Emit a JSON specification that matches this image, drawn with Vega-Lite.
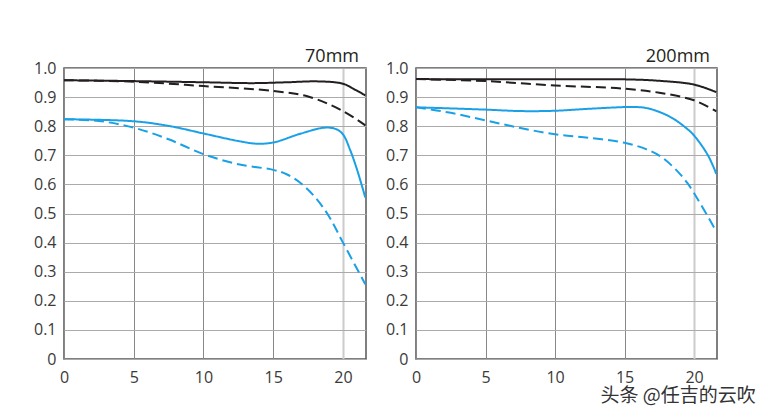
{
  "$schema": "https://vega.github.io/schema/vega-lite/v6.json",
  "background": "white",
  "padding": {"left": 32, "top": 47, "right": 5, "bottom": 0},
  "datasets": {
    "mtf": [
      {"focal": "70mm", "freq": "10", "dir": "S", "x": 0, "y": 0.958},
      {"focal": "70mm", "freq": "10", "dir": "S", "x": 5, "y": 0.955},
      {"focal": "70mm", "freq": "10", "dir": "S", "x": 10, "y": 0.951},
      {"focal": "70mm", "freq": "10", "dir": "S", "x": 13.6, "y": 0.948},
      {"focal": "70mm", "freq": "10", "dir": "S", "x": 16, "y": 0.951},
      {"focal": "70mm", "freq": "10", "dir": "S", "x": 18.2, "y": 0.954},
      {"focal": "70mm", "freq": "10", "dir": "S", "x": 20, "y": 0.946},
      {"focal": "70mm", "freq": "10", "dir": "S", "x": 20.8, "y": 0.927},
      {"focal": "70mm", "freq": "10", "dir": "S", "x": 21.6, "y": 0.906},
      {"focal": "70mm", "freq": "10", "dir": "M", "x": 0, "y": 0.958},
      {"focal": "70mm", "freq": "10", "dir": "M", "x": 5, "y": 0.953},
      {"focal": "70mm", "freq": "10", "dir": "M", "x": 10, "y": 0.938},
      {"focal": "70mm", "freq": "10", "dir": "M", "x": 15, "y": 0.921},
      {"focal": "70mm", "freq": "10", "dir": "M", "x": 17.5, "y": 0.902},
      {"focal": "70mm", "freq": "10", "dir": "M", "x": 20, "y": 0.852},
      {"focal": "70mm", "freq": "10", "dir": "M", "x": 21.6, "y": 0.803},
      {"focal": "70mm", "freq": "30", "dir": "S", "x": 0, "y": 0.824},
      {"focal": "70mm", "freq": "30", "dir": "S", "x": 5, "y": 0.817},
      {"focal": "70mm", "freq": "30", "dir": "S", "x": 7.5, "y": 0.801},
      {"focal": "70mm", "freq": "30", "dir": "S", "x": 10, "y": 0.775},
      {"focal": "70mm", "freq": "30", "dir": "S", "x": 12.5, "y": 0.749},
      {"focal": "70mm", "freq": "30", "dir": "S", "x": 13.8, "y": 0.740},
      {"focal": "70mm", "freq": "30", "dir": "S", "x": 15, "y": 0.744},
      {"focal": "70mm", "freq": "30", "dir": "S", "x": 17, "y": 0.775},
      {"focal": "70mm", "freq": "30", "dir": "S", "x": 18.7, "y": 0.795},
      {"focal": "70mm", "freq": "30", "dir": "S", "x": 19.5, "y": 0.790},
      {"focal": "70mm", "freq": "30", "dir": "S", "x": 20, "y": 0.772},
      {"focal": "70mm", "freq": "30", "dir": "S", "x": 20.5, "y": 0.72},
      {"focal": "70mm", "freq": "30", "dir": "S", "x": 21, "y": 0.652},
      {"focal": "70mm", "freq": "30", "dir": "S", "x": 21.6, "y": 0.555},
      {"focal": "70mm", "freq": "30", "dir": "M", "x": 0, "y": 0.824},
      {"focal": "70mm", "freq": "30", "dir": "M", "x": 2.5, "y": 0.818},
      {"focal": "70mm", "freq": "30", "dir": "M", "x": 5, "y": 0.795},
      {"focal": "70mm", "freq": "30", "dir": "M", "x": 7.5, "y": 0.755},
      {"focal": "70mm", "freq": "30", "dir": "M", "x": 10, "y": 0.704},
      {"focal": "70mm", "freq": "30", "dir": "M", "x": 12.5, "y": 0.669},
      {"focal": "70mm", "freq": "30", "dir": "M", "x": 15, "y": 0.650},
      {"focal": "70mm", "freq": "30", "dir": "M", "x": 16, "y": 0.634},
      {"focal": "70mm", "freq": "30", "dir": "M", "x": 17, "y": 0.603},
      {"focal": "70mm", "freq": "30", "dir": "M", "x": 18, "y": 0.556},
      {"focal": "70mm", "freq": "30", "dir": "M", "x": 19, "y": 0.490},
      {"focal": "70mm", "freq": "30", "dir": "M", "x": 20, "y": 0.40},
      {"focal": "70mm", "freq": "30", "dir": "M", "x": 21.6, "y": 0.257},
      {"focal": "200mm", "freq": "10", "dir": "S", "x": 0, "y": 0.962},
      {"focal": "200mm", "freq": "10", "dir": "S", "x": 5, "y": 0.961},
      {"focal": "200mm", "freq": "10", "dir": "S", "x": 10, "y": 0.961},
      {"focal": "200mm", "freq": "10", "dir": "S", "x": 15, "y": 0.961},
      {"focal": "200mm", "freq": "10", "dir": "S", "x": 17.5, "y": 0.956},
      {"focal": "200mm", "freq": "10", "dir": "S", "x": 20, "y": 0.943},
      {"focal": "200mm", "freq": "10", "dir": "S", "x": 21.6, "y": 0.917},
      {"focal": "200mm", "freq": "10", "dir": "M", "x": 0, "y": 0.962},
      {"focal": "200mm", "freq": "10", "dir": "M", "x": 5, "y": 0.955},
      {"focal": "200mm", "freq": "10", "dir": "M", "x": 10, "y": 0.940},
      {"focal": "200mm", "freq": "10", "dir": "M", "x": 15, "y": 0.929},
      {"focal": "200mm", "freq": "10", "dir": "M", "x": 17.5, "y": 0.915},
      {"focal": "200mm", "freq": "10", "dir": "M", "x": 20, "y": 0.889},
      {"focal": "200mm", "freq": "10", "dir": "M", "x": 21.6, "y": 0.851},
      {"focal": "200mm", "freq": "30", "dir": "S", "x": 0, "y": 0.865},
      {"focal": "200mm", "freq": "30", "dir": "S", "x": 5, "y": 0.857},
      {"focal": "200mm", "freq": "30", "dir": "S", "x": 7.5, "y": 0.852},
      {"focal": "200mm", "freq": "30", "dir": "S", "x": 10, "y": 0.853},
      {"focal": "200mm", "freq": "30", "dir": "S", "x": 12.5, "y": 0.860},
      {"focal": "200mm", "freq": "30", "dir": "S", "x": 15.5, "y": 0.866},
      {"focal": "200mm", "freq": "30", "dir": "S", "x": 16.5, "y": 0.863},
      {"focal": "200mm", "freq": "30", "dir": "S", "x": 17.5, "y": 0.849},
      {"focal": "200mm", "freq": "30", "dir": "S", "x": 18.5, "y": 0.826},
      {"focal": "200mm", "freq": "30", "dir": "S", "x": 19.5, "y": 0.791},
      {"focal": "200mm", "freq": "30", "dir": "S", "x": 20, "y": 0.768},
      {"focal": "200mm", "freq": "30", "dir": "S", "x": 21, "y": 0.700},
      {"focal": "200mm", "freq": "30", "dir": "S", "x": 21.6, "y": 0.636},
      {"focal": "200mm", "freq": "30", "dir": "M", "x": 0, "y": 0.865},
      {"focal": "200mm", "freq": "30", "dir": "M", "x": 2.5, "y": 0.846},
      {"focal": "200mm", "freq": "30", "dir": "M", "x": 5, "y": 0.820},
      {"focal": "200mm", "freq": "30", "dir": "M", "x": 7.5, "y": 0.794},
      {"focal": "200mm", "freq": "30", "dir": "M", "x": 10, "y": 0.772},
      {"focal": "200mm", "freq": "30", "dir": "M", "x": 12.5, "y": 0.760},
      {"focal": "200mm", "freq": "30", "dir": "M", "x": 15, "y": 0.743},
      {"focal": "200mm", "freq": "30", "dir": "M", "x": 16.5, "y": 0.722},
      {"focal": "200mm", "freq": "30", "dir": "M", "x": 17.5, "y": 0.699},
      {"focal": "200mm", "freq": "30", "dir": "M", "x": 18.5, "y": 0.660},
      {"focal": "200mm", "freq": "30", "dir": "M", "x": 19.5, "y": 0.606},
      {"focal": "200mm", "freq": "30", "dir": "M", "x": 20.5, "y": 0.530},
      {"focal": "200mm", "freq": "30", "dir": "M", "x": 21.5, "y": 0.447}
    ]
  },
  "title": {
    "text": "头条 @任吉的云吹",
    "orient": "bottom",
    "anchor": "end",
    "font": "Noto Sans CJK SC",
    "fontSize": 19,
    "fontWeight": "normal",
    "color": "#333333",
    "offset": 1,
    "dx": 38
  },
  "config": {
    "font": "Open Sans",
    "view": {"stroke": "#555555", "strokeWidth": 1.5},
    "axis": {
      "labelFont": "Open Sans",
      "labelFontSize": 16,
      "labelColor": "#3a3a3a",
      "tickSize": 0,
      "domain": false,
      "gridColor": "#999999",
      "gridWidth": 1,
      "gridOpacity": 1,
      "title": null
    },
    "title": {"font": "Open Sans", "fontSize": 18, "fontWeight": "normal", "color": "#231f20"}
  },
  "spacing": 50,
  "bounds": "flush",
  "hconcat": [
    {
      "width": 302,
      "height": 291,
      "title": {"text": "70mm", "anchor": "end", "dx": -7, "offset": -6},
      "data": {"name": "mtf"},
      "transform": [{"filter": "datum.focal === '70mm'"}],
      "mark": {"type": "line", "interpolate": "catmull-rom", "strokeWidth": 2, "clip": true},
      "encoding": {
        "x": {"field": "x", "type": "quantitative", "scale": {"domain": [0, 21.65], "nice": false, "zero": false},
          "axis": {"values": [0, 5, 10, 15, 20], "labelPadding": 10, "labelFlush": false,
            "gridColor": {"condition": {"test": "datum.value === 20", "value": "#cccccc"}, "value": "#888888"},
            "gridWidth": {"condition": {"test": "datum.value === 20", "value": 2}, "value": 1}}},
        "y": {"field": "y", "type": "quantitative", "scale": {"domain": [0, 1], "nice": false},
          "axis": {"values": [0, 0.1, 0.2, 0.3, 0.4, 0.5, 0.6, 0.7, 0.8, 0.9, 1.0], "labelPadding": 8, "labelFlush": false,
            "labelExpr": "datum.value === 0 ? '0' : format(datum.value, '.1f')", "gridColor": "#aaaaaa"}},
        "color": {"field": "freq", "type": "nominal", "scale": {"domain": ["10", "30"], "range": ["#231f20", "#1aa0e6"]}, "legend": null},
        "strokeDash": {"field": "dir", "type": "nominal", "scale": {"domain": ["S", "M"], "range": [[1, 0], [10, 5]]}, "legend": null}
      }
    },
    {
      "width": 301,
      "height": 291,
      "title": {"text": "200mm", "anchor": "end", "dx": -7, "offset": -6},
      "data": {"name": "mtf"},
      "transform": [{"filter": "datum.focal === '200mm'"}],
      "mark": {"type": "line", "interpolate": "catmull-rom", "strokeWidth": 2, "clip": true},
      "encoding": {
        "x": {"field": "x", "type": "quantitative", "scale": {"domain": [0, 21.65], "nice": false, "zero": false},
          "axis": {"values": [0, 5, 10, 15, 20], "labelPadding": 10, "labelFlush": false,
            "gridColor": {"condition": {"test": "datum.value === 20", "value": "#cccccc"}, "value": "#888888"},
            "gridWidth": {"condition": {"test": "datum.value === 20", "value": 2}, "value": 1}}},
        "y": {"field": "y", "type": "quantitative", "scale": {"domain": [0, 1], "nice": false},
          "axis": {"values": [0, 0.1, 0.2, 0.3, 0.4, 0.5, 0.6, 0.7, 0.8, 0.9, 1.0], "labelPadding": 8, "labelFlush": false,
            "labelExpr": "datum.value === 0 ? '0' : format(datum.value, '.1f')", "gridColor": "#aaaaaa"}},
        "color": {"field": "freq", "type": "nominal", "scale": {"domain": ["10", "30"], "range": ["#231f20", "#1aa0e6"]}, "legend": null},
        "strokeDash": {"field": "dir", "type": "nominal", "scale": {"domain": ["S", "M"], "range": [[1, 0], [10, 5]]}, "legend": null}
      }
    }
  ]
}
